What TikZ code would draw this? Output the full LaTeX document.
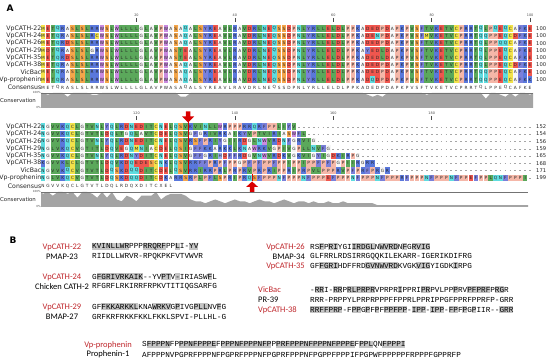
\documentclass[tikz,border=0pt]{standalone}
\usepackage{fontspec}
\setmainfont{DejaVu Sans}
\newfontfamily\calib{Carlito}
\newfontfamily\monof{Liberation Mono}
\definecolor{rD}{HTML}{F0564E}\colorlet{rE}{rD}
\definecolor{rK}{HTML}{5A78DC}\colorlet{rR}{rK}
\definecolor{rS}{HTML}{F5A64A}
\definecolor{rN}{HTML}{5FDCE0}\colorlet{rQ}{rN}
\definecolor{rL}{HTML}{5BA85B}\colorlet{rV}{rL}\colorlet{rI}{rL}\colorlet{rT}{rL}
\definecolor{rF}{HTML}{7A80DA}\colorlet{rY}{rF}
\definecolor{rC}{HTML}{F2E24A}\colorlet{rM}{rC}
\definecolor{rW}{HTML}{C98AE0}
\definecolor{rP}{HTML}{F5B7A8}
\definecolor{rG}{HTML}{F6F6F6}
\definecolor{rA}{HTML}{F6F6F6}
\definecolor{rH}{HTML}{94AAF0}
\definecolor{vpred}{HTML}{C0282D}
\definecolor{consfill}{HTML}{A4A4A4}
\definecolor{shadeB}{HTML}{C4C4C4}
\newcount\rc
\def\ay{0}
\def\xo{43.0}
\newcommand\alnrow[2]{\global\rc=0 \def\ay{#1}\alnloop#2\relax}
\def\alnloop#1{\ifx\relax#1\else\alncell{#1}\expandafter\alnloop\fi}
\newcommand\alncell[1]{%
  \pgfmathsetmacro\cx{\xo+\the\rc*4.92}%
  \fill[r#1] (\cx-2.3,\ay-3.3) rectangle (\cx+2.3,\ay+3.3);
  \node[res] at (\cx,\ay) {#1};
  \global\advance\rc by 1\relax}
\newcommand\consrow[2]{\global\rc=0 \def\ay{#1}\consloop#2\relax}
\def\consloop#1{\ifx\relax#1\else\conscell{#1}\expandafter\consloop\fi}
\newcommand\conscell[1]{%
  \pgfmathsetmacro\cx{\xo+\the\rc*4.92}%
  \node[res] at (\cx,\ay) {#1};
  \global\advance\rc by 1\relax}
\newcommand\dashfill[2]{%
  \foreach \i in {#2,...,99} {\draw[gray!70,line width=0.35pt] ({\xo+\i*4.92-0.9},#1) -- ({\xo+\i*4.92+0.9},#1);}}
\newcommand\bseq[4]{%
  \foreach \a/\b in {#3} {\fill[shadeB] ({#1+(\a-1)*4.62},#2-3.7) rectangle ({#1+\b*4.62},#2+3.5);}
  \node[bseqf] at (#1,#2) {#4};}
\newcommand\bplain[3]{\node[bseqf] at (#1,#2) {#3};}
\tikzset{
  res/.style={font=\fontsize{4.3}{4.3}\selectfont, inner sep=0pt, text=black!85},
  nm/.style={font=\fontsize{6.2}{6.2}\selectfont, inner sep=0pt, anchor=east, text=black!85},
  num/.style={font=\fontsize{5.2}{5.2}\selectfont, inner sep=0pt, anchor=west, text=black!85},
  tick/.style={font=\fontsize{3.4}{3.4}\selectfont, inner sep=0pt, text=black!70},
  pct/.style={font=\fontsize{2.8}{2.8}\selectfont, inner sep=0pt, anchor=east, text=black!70},
  bseqf/.style={font=\monof\fontsize{7.7}{7.7}\selectfont, inner sep=0pt, anchor=west, text=black},
  blab/.style={font=\calib\fontsize{8.5}{8.5}\selectfont, inner sep=0pt},
  redarrow/.style={fill=red!85!black, draw=none},
}
\begin{document}
\begin{tikzpicture}[x=1pt,y=-1pt]
\path[use as bounding box] (0,0) rectangle (550,363);
\fill[white] (0,0) rectangle (550,363);
% ---------- panel A ----------
\node[font=\bfseries\fontsize{9}{9}\selectfont, inner sep=0pt] (labA) at (10,8) {A};
\foreach \p/\lab in {19/20,39/40,59/60,79/80,99/100} {
  \node[tick] at ({\xo+\p*4.92},15.5) {\lab};
  \draw[black!70,line width=0.4pt] ({\xo+\p*4.92},18.5) -- ({\xo+\p*4.92},22.5);
}
\def\rowsA{28.6/VpCATH-22/METQRASLSLRRWSLWLLLLGLAVPWASAQALSYREAVLRAVDRLNEQSSDPNLYRLLELDLPPKADEDPDAPKPVSFTVKETVCPRRTQLPQEQCAFKE,
35.9/VpCATH-24/METQRASLSLRCWSLWLLLLGLAVPWASAQALSYREAVLRAVDRLNEQSSDPNLYRLLELDLPPKADENPDAPKPVSFMVKETVCPRRTQQPPEQCDFKE,
43.2/VpCATH-26/METQRDSLSLRRWSLWLLLLGLAVPWASAQALSYREAVLRAVDRLNEQSSDPNLYRLLELDLPPKADEDPDAPKPVSFTVKETVCPRRTQLPPQQCAFKE,
50.5/VpCATH-29/MDTQRASLSLGRWSLWLLLLGLAVPWASTEALSYREAVLRAVDRLNEQSSDPNLYRLLELDLPPKAYEDLDAPKPVSFTVKETVCPRRTQLPPEQCAFKE,
57.8/VpCATH-35/METQRDSLSLRRWSLWLLLLGLAVPWASTEALSYREAVLRAVDRLNEQSSDPNLYRLLELDLPPKADEDLDAPKPVSFTVKETVCPRRTQLPPEQCAFKE,
65.1/VpCATH-38/METQRASLSLRRWSLWLLLLGLAVPWASAQALSYREAVLRAVDRLNEQSSDPNLYRLLELDLPPKADEDPDAPKPVSFTVKETVCPRRTQLPPEQCDFKE,
72.4/VicBac/METQRASLSLRRWSLWLLLLGLAVPWASAQALSYREAVLRAVDRLNEQSSDPNLYRLLELDLPPKADEDPDAPKPVSFTVKETVCPRRTQQPPEQCAFKE,
79.7/Vp-prophenin/METQRASLSLRRWSLWLLLLGLAVPWASAQALSYREAVLRAVDRLNEQSSDPNLYRLLELDLPPKADQDPDAPKPVSFTVKETVCPRRTQQPPEQCAFKK}
\foreach \yy/\nn/\ss in \rowsA {
  \node[nm] at (41.5,\yy) {\nn};
  \edef\tmprow{\noexpand\alnrow{\yy}{\ss}}\tmprow
  \node[num] at (536,\yy) {100};
}
\node[nm] (consA) at (41.5,87.6) {Consensus};
\consrow{87.6}{METQRASLSLRRWSLWLLLLGLAVPWASAQALSYREAVLRAVDRLNEQSSDPNLYRLLELDLPPKADEDPDAPKPVSFTVKETVCPRRTQLPPEQCAFKE}
\node[pct] at (41,92.5) {100\%};
\node[pct] at (41,107.5) {0\%};
\node[nm, anchor=west, font=\fontsize{5.4}{5.4}\selectfont] at (0,100.5) {Conservation};
\fill[consfill] (41.2,108) -- (41.2,93)
  \foreach \v [count=\i from 0] in {100,88,100,100,100,75,100,100,100,100, 88,88,100,100,100,100,100,100,100,100, 100,100,100,100,100,100,100,100,75,75, 100,100,100,100,100,100,100,100,100,100, 100,100,100,100,100,100,100,100,100,100, 100,100,100,100,100,100,100,100,100,100, 100,100,100,100,100,100,88,75,88,75, 100,100,100,100,100,100,100,100,88,100, 100,100,100,100,100,100,100,100,100,100, 62,100,100,88,75,100,75,100,100,88}
  { -- ({\xo+\i*4.92},{108-0.15*\v}) } -- (533,93) -- (533,108) -- cycle;
\draw[black!55,line width=0.3pt] (41.2,93) -- (533,93);
\foreach \p/\lab in {19/120,39/140,59/160,79/180} {
  \node[tick] at ({\xo+\p*4.92},113.5) {\lab};
  \draw[black!70,line width=0.4pt] ({\xo+\p*4.92},116.5) -- ({\xo+\p*4.92},120.5);
}
\def\rowsB{126.8/VpCATH-22/52/152/NGVVKQCLGTVNLYQLRDNEDITCNELQSVKVINLLWRPPPRRQRFPPLIYV,
134.1/VpCATH-24/54/154/NGVVKQCLGTVTLDQLTGQLAVTCDELQSVGFGRIVRKAIKYVPTVIRIASWFL,
141.4/VpCATH-26/56/156/NGVVKQCLGTVNLYQLRDNEDITCNELQSVRSFPRIYGIIRDGLNWVRDNFGRVIG,
148.7/VpCATH-29/59/159/NGLVKQCVGTITLDQVEGQMNIACDELQSIGFFKKARKKLKNAWRKVGPIVGPLLNVFG,
156.0/VpCATH-35/65/165/NGVVKQCLGTVNLYQLRDNYDITCNELQSVGFFGRIHDFFRDGVNWVRDKVGKVIGYIGDKIRPG,
163.3/VpCATH-38/68/168/KGVVKLCLGTVTLDQVKDQEDESCNKLQSVRRFFPRPFPPGPFPFPPFPPIPPIPPFPFPGPIIRGRR,
170.6/VicBac/71/171/NGVVKQCVGTVTLDQSKDQQDITCDELQSVRRIRRPRLPRPRVPRPRIPPRIPRPVLPPPRVPFPRFPRGR,
177.9/Vp-prophenin/99/199/NGLVKQCVGTVTLDQSKDQQDITCDKARRSRPLPFLSPRIPRQSFPPPNFPPPNFPPPEFPPPNFPPPNFPPPRFPPPNFPPPNFPPEFPPLQNFPPPI}
\foreach \yy/\nn/\ll/\ee/\ss in \rowsB {
  \node[nm] at (41.5,\yy) {\nn};
  \edef\tmprow{\noexpand\alnrow{\yy}{\ss}}\tmprow
  \dashfill{\yy}{\ll}
  \node[num] at (536,\yy) {\ee};
}
\node[nm] (consB) at (41.5,185.8) {Consensus};
\consrow{185.8}{NGVVKQCLGTVTLDQLRDQXDITCXEL}
\node[pct] at (41,191.5) {100\%};
\node[pct] at (41,206.5) {0\%};
\node[nm, anchor=west, font=\fontsize{5.4}{5.4}\selectfont] at (0,199.5) {Conservation};
\fill[consfill] (41.2,207) -- (41.2,192)
  \foreach \v [count=\i from 0] in {88,100,75,100,100,88,100,62,100,100, 88,62,100,62,100,50,38,75,62,38, 75,75,75,100,50,75,88,88,88,75, 50,38,38,25,38,50,38,25,38,50, 38,38,25,38,50,38,38,25,38,50, 38,25,38,38,25,38,25,25,38,25, 25,38,25,25,25,25,25,25,12,12, 12,12,12,12,12,12,12,12,12,12, 12,12,12,12,12,12,12,12,12,12, 12,12,12,12,12,12,12,12,12}
  { -- ({\xo+\i*4.92},{207-0.15*\v}) } -- (528,205.2) -- (528,207) -- cycle;
\draw[black!55,line width=0.3pt] (41.2,192) -- (528,192);
\coordinate (cutTop) at (188.1,121.5);
\coordinate (cutBot) at (188.1,174);
\fill[redarrow] (185.8,111.5) -- (190.4,111.5) -- (190.4,116.5) -- (194.1,116.5) -- (188.1,122.5) -- (182.1,116.5) -- (185.8,116.5) -- cycle;
\draw[red!85!black,line width=0.7pt] (cutTop) -- (cutBot);
\coordinate (cut2Top) at (252.1,174.2);
\coordinate (cut2Bot) at (252.1,181.5);
\draw[red!85!black,line width=0.7pt] (cut2Top) -- (cut2Bot);
\fill[redarrow] (249.8,192) -- (254.4,192) -- (254.4,187) -- (258.1,187) -- (252.1,181.5) -- (246.1,187) -- (249.8,187) -- cycle;
% ---------- panel B ----------
\node[font=\bfseries\fontsize{9}{9}\selectfont, inner sep=0pt] (labB) at (13,240) {B};
\node[blab, text=vpred] (b22) at (62,247) {VpCATH-22};
\node[blab] (bp23) at (62,256.5) {PMAP-23};
\bseq{92}{247}{1/8,12/16,19/19,22/23}{KVINLLWRPPPRRQRFPPLI-YV}
\bplain{92}{256.5}{RIIDLLWRVR-RPQKPKFVTVWVR}
\node[blab, text=vpred] (b24) at (62,277) {VpCATH-24};
\node[blab] (bc2) at (62,286.5) {Chicken CATH-2};
\bseq{92}{277}{2/11,16/17,19/19,26/26}{GFGRIVRKAIK--YVPTV-IRIASWFL}
\bplain{92}{286.5}{RFGRFLRKIRRFRPKVTITIQGSARFG}
\node[blab, text=vpred] (b29) at (62,307) {VpCATH-29};
\node[blab] (bb27) at (62,316.5) {BMAP-27};
\bseq{92}{307}{3/10,14/17,19/19,23/25,28/28}{GFFKKARKKLKNAWRKVGPIVGPLLNVFG}
\bplain{92}{316.5}{GRFKRFRKKFKKLFKKLSPVI-PLLHL-G}
\node[blab, text=vpred, anchor=east] (b26) at (305,247) {VpCATH-26};
\node[blab, anchor=east] (bb34) at (305,256.5) {BMAP-34};
\node[blab, text=vpred, anchor=east] (b35) at (305,266) {VpCATH-35};
\bseq{310}{247}{3/3,5/6,10/14,16/19,21/21,23/26}{RSFPRIYGIIRDGLNWVRDNFGRVIG}
\bplain{310}{256.5}{GLFRRLRDSIRRGQQKILEKARR-IGERIKDIFRG}
\bseq{310}{266}{3/6,13/19,24/26,32/32}{GFFGRIHDFFRDGVNWVRDKVGKVIGYIGDKIRPG}
\node[blab, text=vpred, anchor=west] (bvic) at (258,290) {VicBac};
\node[blab, anchor=west] (bpr) at (258,300) {PR-39};
\node[blab, text=vpred, anchor=west] (b38) at (258,310) {VpCATH-38};
\bseq{310}{290}{2/3,6/7,9/14,20/20,25/26,32/32,35/39,41/42}{-RRI-RRPRLPRPRVPRPRIPPRIPRPVLPPPRVPFPRFPRGR}
\bplain{310}{300}{RRR-PRPPYLPRPRPPPFFPPRLPPRIPPGFPPRFPPRFP-GRR}
\bseq{310}{310}{1/7,10/11,13/13,15/15,17/21,23/25,27/29,31/32,34/34,36/36,42/44}{RRFFPRP-FPPGPFPFPPFPP-IPP-IPP-FPFPGPIIR--GRR}
\node[blab, text=vpred] (bvp) at (108,345) {Vp-prophenin};
\node[blab] (bp1) at (108,354.5) {Prophenin-1};
\bseq{142}{345}{2/6,9/16,18/28,30/46,48/50,53/57}{SFPPPNFPPPNFPPPEFPPPNFPPPNFPPPRFPPPNFPPPNFPPPEFPPLQNFPPPI}
\bplain{142}{354.5}{AFPPPNVPGPRFPPPNFPGPRFPPPNFPGPRFPPPNFPGPPFPPPIFPGPWFPPPPPFRPPPFGPPRFP}
\end{tikzpicture}
\end{document}
